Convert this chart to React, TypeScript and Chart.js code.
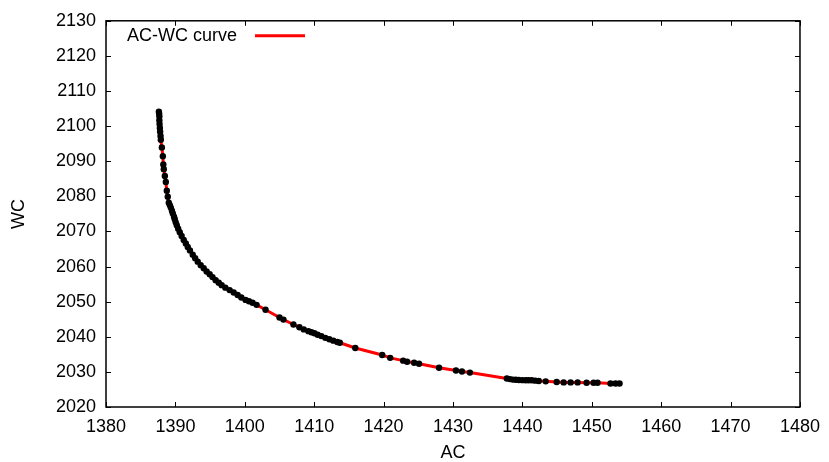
import React, { useEffect, useRef } from "react";
import { Chart, registerables } from "chart.js";

Chart.register(...registerables);

const acValues = [
  1387.62, 1387.66, 1387.69, 1387.69, 1387.72, 1387.76, 1387.8, 1387.86, 1387.9, 1388.05,
  1388.19, 1388.26, 1388.33, 1388.48, 1388.62, 1388.76, 1388.9, 1389.05, 1389.2, 1389.34,
  1389.5, 1389.63, 1389.8, 1389.91, 1390.05, 1390.2, 1390.4, 1390.63, 1390.9, 1391.2,
  1391.5, 1391.78, 1392.1, 1392.5, 1392.85, 1393.22, 1393.65, 1394.08, 1394.5, 1394.94,
  1395.35, 1395.8, 1396.25, 1396.67, 1397.2, 1397.82, 1398.4, 1398.97, 1399.5, 1400.11,
  1400.6, 1401.12, 1401.7, 1402.99, 1405.0, 1405.57, 1407.01, 1407.87, 1408.5, 1409.17,
  1409.6, 1410.03, 1410.5, 1411.03, 1411.6, 1412.18, 1412.75, 1413.33, 1413.7, 1415.92,
  1419.8, 1420.95, 1422.82, 1423.39, 1424.4, 1425.11, 1427.99, 1430.43, 1431.29, 1432.44,
  1437.76, 1438.2, 1438.62, 1439.05, 1439.48, 1440.0, 1440.49, 1440.9, 1441.35, 1441.85,
  1442.36, 1443.36, 1444.94, 1445.95, 1446.95, 1447.96, 1449.25, 1450.26, 1450.83, 1452.7,
  1453.42, 1454.0,
];
const wcValues = [
  2104.1, 2103.6, 2102.8, 2101.7, 2100.6, 2099.5, 2098.4, 2097.2, 2096.1, 2093.9,
  2091.4, 2089.1, 2087.7, 2085.8, 2084.1, 2081.6, 2079.9, 2078.2, 2077.5, 2076.8,
  2075.9, 2075.1, 2074.2, 2073.5, 2072.6, 2071.8, 2070.8, 2069.8, 2068.7, 2067.6,
  2066.6, 2065.6, 2064.6, 2063.4, 2062.4, 2061.4, 2060.4, 2059.5, 2058.6, 2057.8,
  2057.0, 2056.1, 2055.4, 2054.7, 2054.0, 2053.3, 2052.6, 2051.9, 2051.2, 2050.5,
  2050.1, 2049.7, 2049.1, 2047.7, 2045.5, 2044.9, 2043.5, 2042.7, 2042.1, 2041.6,
  2041.3, 2041.0, 2040.6, 2040.2, 2039.7, 2039.3, 2038.9, 2038.5, 2038.3, 2036.8,
  2034.8, 2034.0, 2033.2, 2032.9, 2032.6, 2032.3, 2031.2, 2030.4, 2030.1, 2029.8,
  2028.1, 2027.95, 2027.8, 2027.75, 2027.7, 2027.65, 2027.6, 2027.6, 2027.6, 2027.5,
  2027.4, 2027.3, 2027.1, 2027.0, 2027.0, 2027.0, 2026.9, 2026.9, 2026.9, 2026.7,
  2026.7, 2026.7,
];
const xTicks = [1380, 1390, 1400, 1410, 1420, 1430, 1440, 1450, 1460, 1470, 1480];
const yTicks = [2020, 2030, 2040, 2050, 2060, 2070, 2080, 2090, 2100, 2110, 2120, 2130];
const seriesLabel = "AC-WC curve";
const xTitle = "AC";
const yTitle = "WC";

const FONT = "'Liberation Sans', Arial, Helvetica, sans-serif";
const FONT_SIZE = 18;
const LINE_RED = "#ff0000";

const framePlugin = {
  id: "gnuFrame",
  afterDatasetsDraw(chart: any) {
    const { ctx, chartArea, scales } = chart;
    const { left, right, top, bottom } = chartArea;
    const x = scales.x;
    const y = scales.y;
    ctx.save();
    ctx.strokeStyle = "#000";
    ctx.lineWidth = 1;
    const tl = 5;
    ctx.beginPath();
    xTicks.forEach((v) => {
      const px = Math.round(x.getPixelForValue(v)) + 0.5;
      ctx.moveTo(px, bottom);
      ctx.lineTo(px, bottom - tl);
      ctx.moveTo(px, top);
      ctx.lineTo(px, top + tl);
    });
    yTicks.forEach((v) => {
      const py = Math.round(y.getPixelForValue(v)) + 0.5;
      ctx.moveTo(left, py);
      ctx.lineTo(left + tl, py);
      ctx.moveTo(right, py);
      ctx.lineTo(right - tl, py);
    });
    ctx.stroke();
    ctx.lineWidth = 1.5;
    ctx.strokeRect(left, top, right - left, bottom - top);

    // legend
    ctx.font = `${FONT_SIZE}px ${FONT}`;
    ctx.fillStyle = "#000";
    ctx.textBaseline = "middle";
    ctx.textAlign = "left";
    const lx = left + 21;
    const ly = top + 15;
    ctx.fillText(seriesLabel, lx, ly);
    ctx.strokeStyle = LINE_RED;
    ctx.lineWidth = 3;
    ctx.beginPath();
    ctx.moveTo(left + 149, ly);
    ctx.lineTo(left + 199, ly);
    ctx.stroke();
    ctx.restore();
  },
};

export default function App() {
  const canvasRef = useRef<HTMLCanvasElement | null>(null);

  useEffect(() => {
    document.body.style.margin = "0";
    const canvas = canvasRef.current;
    if (!canvas) return;
    const points = acValues.map((v, i) => ({ x: v, y: wcValues[i] }));
    const chart = new Chart(canvas, {
      type: "scatter",
      data: {
        datasets: [
          {
            label: seriesLabel,
            data: points,
            showLine: true,
            borderColor: LINE_RED,
            borderWidth: 3,
            pointBackgroundColor: "#000",
            pointBorderColor: "#000",
            pointBorderWidth: 0,
            pointRadius: 3.2,
            tension: 0,
          } as any,
        ],
      },
      options: {
        responsive: false,
        animation: false,
        layout: { padding: { top: 14, right: 27, left: 0, bottom: 0 } },
        plugins: {
          legend: { display: false },
          tooltip: { enabled: false },
        },
        scales: {
          x: {
            type: "linear",
            min: 1380,
            max: 1480,
            afterBuildTicks: (scale: any) => {
              scale.ticks = xTicks.map((v) => ({ value: v }));
            },
            afterFit: (scale: any) => {
              scale.height = 55;
            },
            grid: { display: false, drawTicks: false },
            border: { display: false },
            ticks: {
              color: "#000",
              padding: 9,
              maxRotation: 0,
              font: { family: FONT, size: FONT_SIZE },
              callback: (v: any) => String(v),
            },
            title: {
              display: true,
              text: xTitle,
              color: "#000",
              font: { family: FONT, size: FONT_SIZE, lineHeight: 1 },
              padding: { top: 0, bottom: 0 },
            },
          },
          y: {
            type: "linear",
            min: 2020,
            max: 2130,
            afterBuildTicks: (scale: any) => {
              scale.ticks = yTicks.map((v) => ({ value: v }));
            },
            afterFit: (scale: any) => {
              scale.width = 106;
            },
            grid: { display: false, drawTicks: false },
            border: { display: false },
            ticks: {
              color: "#000",
              padding: 10,
              font: { family: FONT, size: FONT_SIZE },
              callback: (v: any) => String(v),
            },
            title: {
              display: true,
              text: yTitle,
              color: "#000",
              font: { family: FONT, size: FONT_SIZE, lineHeight: 1 },
              padding: { top: 10, bottom: 0 },
            },
          },
        },
      },
      plugins: [framePlugin],
    });
    return () => chart.destroy();
  }, []);

  return (
    <div style={{ position: "absolute", left: 0, top: 0, width: 829, height: 462, background: "#fff" }}>
      <canvas ref={canvasRef} width={829} height={462} style={{ width: 829, height: 462 }} />
    </div>
  );
}
